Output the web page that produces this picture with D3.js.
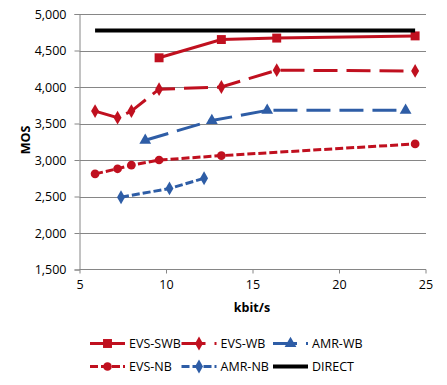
<!DOCTYPE html>
<html><head><meta charset="utf-8">
<script src="https://cdn.jsdelivr.net/npm/d3@7"></script>
<style>body{margin:0;background:#fff}svg{display:block}text{font-family:"Open Sans",sans-serif;fill:#000}</style>
</head><body><svg id="c" width="447" height="385"></svg>
<script>
const xTicks = [5, 10, 15, 20, 25];
const yTicks = [1500, 2000, 2500, 3000, 3500, 4000, 4500, 5000];
const evsSwbX = [9.6, 13.2, 16.4, 24.4];
const evsSwbY = [4400, 4650, 4670, 4700];
const evsWbX = [5.9, 7.2, 8.0, 9.6, 13.2, 16.4, 24.4];
const evsWbY = [3670, 3580, 3670, 3970, 4000, 4230, 4220];
const amrWbX = [8.8, 12.65, 15.85, 23.85];
const amrWbY = [3270, 3540, 3680, 3680];
const evsNbX = [5.9, 7.2, 8.0, 9.6, 13.2, 24.4];
const evsNbY = [2810, 2880, 2930, 3000, 3060, 3220];
const amrNbX = [7.4, 10.2, 12.2];
const amrNbY = [2490, 2610, 2750];
const directX = [5.9, 24.4];
const directY = [4775, 4775];

const RED = "#C0101F", BLUE = "#2E5DA6";
const series = [
  {name:"EVS-SWB", xs:evsSwbX, ys:evsSwbY, color:RED, dash:null, sym:d3.symbolSquare, size:80},
  {name:"EVS-WB", xs:evsWbX, ys:evsWbY, color:RED, dash:"24,9", sym:d3.symbolDiamond, size:55},
  {name:"AMR-WB", xs:amrWbX, ys:amrWbY, color:BLUE, dash:"24,9", sym:d3.symbolTriangle, size:60},
  {name:"EVS-NB", xs:evsNbX, ys:evsNbY, color:RED, dash:"8,3", sym:d3.symbolCircle, size:60},
  {name:"AMR-NB", xs:amrNbX, ys:amrNbY, color:BLUE, dash:"8,3", sym:d3.symbolDiamond, size:55},
  {name:"DIRECT", xs:directX, ys:directY, color:"#000", dash:null, sym:null, size:0}
];

const svg = d3.select("#c");
const x = d3.scaleLinear().domain([5,25]).range([79.5,425.5]);
const y = d3.scaleLinear().domain([1500,5000]).range([269.5,14]);

// gridlines
svg.append("g").selectAll("line").data(yTicks.slice(1)).join("line")
  .attr("x1",79.5).attr("x2",426).attr("y1",d=>Math.round(y(d))+0.5).attr("y2",d=>Math.round(y(d))+0.5)
  .attr("stroke","#868686").attr("stroke-width",1);

const gy = svg.append("g").attr("transform","translate(79.5,0)")
  .call(d3.axisLeft(y).tickValues(yTicks).tickSize(5).tickPadding(8).tickFormat(d3.format(",")));
const gx = svg.append("g").attr("transform","translate(0,269.5)")
  .call(d3.axisBottom(x).tickValues(xTicks).tickSize(4).tickPadding(7));
[gy,gx].forEach(g=>{
  g.select(".domain").attr("stroke","#868686");
  g.selectAll(".tick line").attr("stroke","#868686");
  g.selectAll("text").attr("font-size","12.5px").attr("font-family","Open Sans, sans-serif").attr("fill","#000");
});
gx.select(".domain").attr("d","M79.5,0H426");

// lines
const line = d3.line().x(d=>x(d[0])).y(d=>y(d[1]));
series.forEach(s=>{
  const pts = s.xs.map((v,i)=>[v,s.ys[i]]);
  svg.append("path").attr("d",line(pts)).attr("fill","none").attr("stroke",s.color)
    .attr("stroke-width",s.name==="DIRECT"?4:3).attr("stroke-dasharray",s.dash);
  if(s.sym){
    svg.append("g").selectAll("path").data(pts).join("path")
      .attr("transform",d=>`translate(${x(d[0])},${y(d[1])})`)
      .attr("d",d3.symbol().type(s.sym).size(s.size)).attr("fill",s.color);
  }
});

// axis titles
svg.append("text").attr("transform","translate(30,140) rotate(-90)").attr("text-anchor","middle")
  .attr("font-weight","bold").attr("font-size","12.5px").text("MOS");
svg.append("text").attr("x",252).attr("y",312).attr("text-anchor","middle")
  .attr("font-weight","bold").attr("font-size","12.5px").text("kbit/s");

// legend
const colX = [90, 181.5, 273], rowY = [343.5, 366.5];
series.forEach((s,i)=>{
  const cx = colX[i%3], cy = rowY[Math.floor(i/3)];
  const g = svg.append("g");
  g.append("line").attr("x1",cx).attr("x2",cx+35).attr("y1",cy).attr("y2",cy)
    .attr("stroke",s.color).attr("stroke-width",s.name==="DIRECT"?4:3).attr("stroke-dasharray",s.dash);
  if(s.sym) g.append("path").attr("transform",`translate(${cx+17.5},${cy})`)
    .attr("d",d3.symbol().type(s.sym).size(s.size)).attr("fill",s.color);
  g.append("text").attr("x",cx+39).attr("y",cy).attr("dy","0.35em").attr("font-size","12.5px").text(s.name);
});
</script></body></html>
